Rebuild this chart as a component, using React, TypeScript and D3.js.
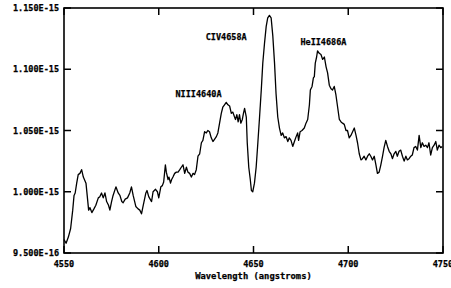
import React from "react";
import * as d3 from "d3";

// spectrum, wavelength in angstroms, flux in units of 1e-15
const wavelength = [
  4550.0, 4551.1, 4552.3, 4553.5, 4554.6, 4555.3, 4555.9, 4556.7, 4557.5, 4558.4,
  4559.3, 4560.2, 4561.6, 4562.3, 4563.0, 4563.7, 4564.7, 4565.8, 4566.8, 4568.1,
  4568.9, 4569.8, 4570.7, 4571.6, 4572.5, 4573.5, 4574.2, 4575.1, 4575.9, 4577.4,
  4578.6, 4579.5, 4580.5, 4581.2, 4582.3, 4583.5, 4584.7, 4585.6, 4586.5, 4587.9,
  4589.1, 4590.0, 4590.9, 4591.7, 4593.2, 4593.8, 4594.7, 4596.2, 4597.0, 4598.3,
  4599.3, 4600.0, 4601.1, 4601.9, 4602.6, 4603.5, 4604.0, 4604.9, 4605.4, 4606.2,
  4606.8, 4607.5, 4608.4, 4609.3, 4610.2, 4611.1, 4611.9, 4612.8, 4613.7, 4614.6,
  4615.4, 4616.3, 4617.2, 4618.1, 4618.9, 4619.8, 4620.7, 4621.6, 4622.5, 4623.3,
  4624.2, 4625.1, 4625.9, 4626.8, 4627.7, 4628.6, 4629.5, 4630.4, 4631.2, 4632.1,
  4633.0, 4633.8, 4634.7, 4635.6, 4636.5, 4637.4, 4638.3, 4639.1, 4640.0, 4640.5,
  4641.2, 4641.9, 4642.6, 4643.3, 4644.1, 4644.7, 4645.3, 4646.2, 4646.7, 4647.5,
  4648.3, 4648.9, 4649.6, 4650.5, 4651.4, 4652.3, 4653.2, 4654.1, 4654.9, 4655.8,
  4656.7, 4657.5, 4658.4, 4659.3, 4660.2, 4661.1, 4661.9, 4662.8, 4663.7, 4664.6,
  4665.4, 4666.3, 4667.2, 4668.1, 4668.9, 4669.8, 4670.7, 4671.6, 4672.5, 4673.3,
  4673.8, 4674.6, 4675.6, 4676.8, 4677.7, 4678.6, 4679.5, 4680.0, 4680.9, 4681.6,
  4682.1, 4682.6, 4683.3, 4683.8, 4684.7, 4685.6, 4686.5, 4687.4, 4688.3, 4689.1,
  4690.0, 4690.9, 4691.7, 4692.6, 4693.5, 4694.4, 4695.3, 4696.2, 4697.0, 4697.9,
  4698.8, 4699.6, 4700.5, 4701.4, 4702.3, 4703.2, 4704.1, 4704.9, 4705.8, 4706.7,
  4707.5, 4708.4, 4709.3, 4710.2, 4711.1, 4711.9, 4712.8, 4713.7, 4714.6, 4715.4,
  4716.3, 4717.2, 4718.1, 4718.9, 4719.8, 4720.7, 4721.6, 4722.5, 4723.3, 4724.2,
  4725.1, 4725.9, 4726.8, 4727.7, 4728.6, 4729.5, 4730.4, 4731.2, 4732.1, 4733.0,
  4733.8, 4734.7, 4735.6, 4736.5, 4737.4, 4738.3, 4739.1, 4740.0, 4740.9, 4741.8,
  4742.6, 4743.5, 4744.4, 4745.3, 4746.2, 4747.0, 4747.9, 4748.8, 4749.6,
];

const flux = [
  0.961, 0.958, 0.963, 0.970, 0.985, 0.997, 0.999, 1.007, 1.014, 1.015,
  1.018, 1.012, 1.007, 0.996, 0.985, 0.987, 0.983, 0.986, 0.989, 0.995,
  0.996, 0.999, 0.995, 0.999, 0.992, 0.989, 0.985, 0.992, 0.997, 1.004,
  0.999, 0.997, 0.992, 0.991, 0.994, 0.995, 0.999, 1.004, 0.997, 0.988,
  0.986, 0.985, 0.982, 0.988, 0.999, 1.001, 0.996, 0.992, 1.000, 1.002,
  1.000, 0.995, 1.004, 1.005, 1.008, 1.022, 1.016, 1.010, 1.012, 1.007,
  1.010, 1.012, 1.015, 1.016, 1.016, 1.018, 1.020, 1.022, 1.015, 1.020,
  1.016, 1.015, 1.012, 1.015, 1.014, 1.018, 1.029, 1.031, 1.040, 1.042,
  1.049, 1.048, 1.050, 1.049, 1.044, 1.041, 1.043, 1.045, 1.048, 1.056,
  1.064, 1.069, 1.071, 1.073, 1.071, 1.070, 1.064, 1.065, 1.061, 1.059,
  1.063, 1.057, 1.063, 1.056, 1.059, 1.064, 1.068, 1.061, 1.040, 1.020,
  1.010, 1.001, 1.000, 1.007, 1.020, 1.040, 1.061, 1.083, 1.105, 1.121,
  1.135, 1.142, 1.144, 1.142, 1.127, 1.105, 1.080, 1.061, 1.052, 1.046,
  1.048, 1.044, 1.045, 1.041, 1.044, 1.042, 1.037, 1.041, 1.045, 1.048,
  1.042, 1.049, 1.050, 1.052, 1.056, 1.059, 1.071, 1.083, 1.086, 1.093,
  1.094, 1.105, 1.110, 1.115, 1.113, 1.112, 1.108, 1.110, 1.102, 1.097,
  1.087, 1.084, 1.083, 1.086, 1.079, 1.069, 1.059, 1.057, 1.056, 1.055,
  1.050, 1.050, 1.044, 1.046, 1.049, 1.052, 1.046, 1.040, 1.031, 1.026,
  1.027, 1.029, 1.026, 1.029, 1.031, 1.029, 1.026, 1.029, 1.022, 1.015,
  1.016, 1.022, 1.029, 1.036, 1.042, 1.037, 1.033, 1.031, 1.027, 1.031,
  1.033, 1.029, 1.033, 1.034, 1.029, 1.025, 1.029, 1.026, 1.027, 1.029,
  1.030, 1.036, 1.037, 1.034, 1.046, 1.036, 1.040, 1.037, 1.038, 1.036,
  1.040, 1.030, 1.036, 1.038, 1.041, 1.034, 1.038, 1.036, 1.037,
];

const xTicks = [4550, 4600, 4650, 4700, 4750];
const yTicks = [0.95, 1.0, 1.05, 1.1, 1.15];

// emission line annotations (centre wavelength, baseline flux)
const lineLabels = [
  { text: "NIII4640A", wl: 4621.0, flux: 1.077 },
  { text: "CIV4658A", wl: 4635.6, flux: 1.124 },
  { text: "HeII4686A", wl: 4686.9, flux: 1.120 },
];

const W = 451;
const H = 288;
const margin = { top: 8, right: 8, bottom: 35, left: 64 };
const font = "'DejaVu Sans Mono', monospace";

export default function App() {
  const x = d3
    .scaleLinear()
    .domain([4550, 4750])
    .range([margin.left, W - margin.right]);
  const y = d3
    .scaleLinear()
    .domain([0.95, 1.15])
    .range([H - margin.bottom, margin.top]);

  const pts = wavelength.map((w, i) => [w, flux[i]] as [number, number]);
  const line = d3
    .line<[number, number]>()
    .x(d => x(d[0]))
    .y(d => y(d[1]));

  const fmt = d3.format(".3e");
  const yLabel = (v: number) => fmt(v * 1e-15).toUpperCase();

  const x0 = x.range()[0];
  const x1 = x.range()[1];
  const y0 = y.range()[0];
  const y1 = y.range()[1];
  const tl = 7;

  const txt = {
    fontFamily: font,
    fontWeight: "bold",
    fontSize: 8.5,
    stroke: "#000",
    strokeWidth: 0.25,
  } as const;

  return (
    <svg
      width={W}
      height={H}
      style={{ position: "absolute", left: 0, top: 0, background: "#fff" }}
    >
      <path d={line(pts) || ""} fill="none" stroke="#000" strokeWidth={1.3} strokeLinejoin="round" />

      {/* ticks on all four sides, pointing inward */}
      {xTicks.map(t => (
        <g key={"xt" + t}>
          <line x1={x(t)} x2={x(t)} y1={y0} y2={y0 - tl} stroke="#000" strokeWidth={1.5} />
          <line x1={x(t)} x2={x(t)} y1={y1} y2={y1 + tl} stroke="#000" strokeWidth={1.5} />
          <text x={x(t)} y={y0 + 14} textAnchor="middle" {...txt}>
            {t}
          </text>
        </g>
      ))}
      {yTicks.map(t => (
        <g key={"yt" + t}>
          <line x1={x0} x2={x0 + tl} y1={y(t)} y2={y(t)} stroke="#000" strokeWidth={1.5} />
          <line x1={x1} x2={x1 - tl} y1={y(t)} y2={y(t)} stroke="#000" strokeWidth={1.5} />
          <text x={x0 - 5} y={y(t) + 3} textAnchor="end" {...txt}>
            {yLabel(t)}
          </text>
        </g>
      ))}

      <rect
        x={x0}
        y={y1}
        width={x1 - x0}
        height={y0 - y1}
        fill="none"
        stroke="#000"
        strokeWidth={1.6}
      />

      {lineLabels.map(l => (
        <text key={l.text} x={x(l.wl)} y={y(l.flux)} textAnchor="middle" {...txt}>
          {l.text}
        </text>
      ))}

      <text x={(x0 + x1) / 2} y={H - 9} textAnchor="middle" {...txt} fontSize={8.8}>
        Wavelength (angstroms)
      </text>
    </svg>
  );
}
